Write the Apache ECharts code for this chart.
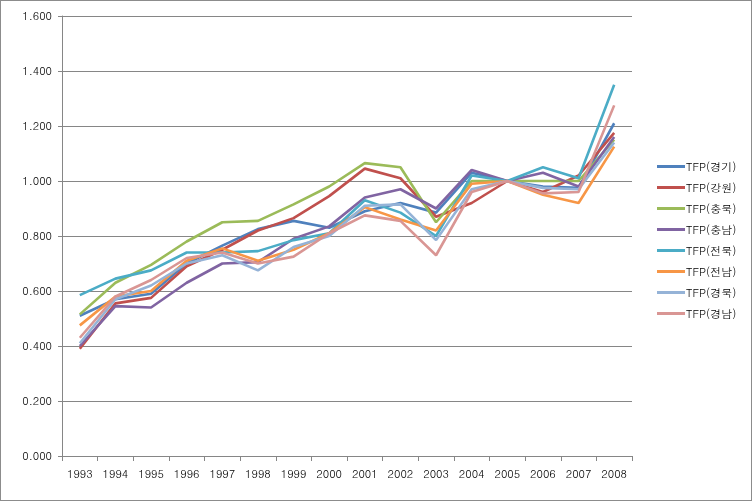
<!DOCTYPE html>
<html><head><meta charset="utf-8">
<script src="https://cdn.jsdelivr.net/npm/echarts@6/dist/echarts.min.js"></script>
<style>
html,body{margin:0;padding:0;background:#fff;}
#c{width:752px;height:501px;box-sizing:border-box;border:1px solid #8c8c8c;}
</style></head><body>
<div id="c"></div>
<script>
const years = ['1993','1994','1995','1996','1997','1998','1999','2000','2001','2002','2003','2004','2005','2006','2007','2008'];
const seriesNames = ['TFP(경기)','TFP(강원)','TFP(충북)','TFP(충남)','TFP(전북)','TFP(전남)','TFP(경북)','TFP(경남)'];
const gyeonggi = [0.510,0.570,0.590,0.700,0.765,0.825,0.855,0.830,0.890,0.920,0.885,1.030,1.000,0.980,0.975,1.210];
const gangwon  = [0.390,0.555,0.575,0.690,0.750,0.820,0.865,0.945,1.045,1.010,0.870,0.920,1.000,0.960,1.020,1.175];
const chungbuk = [0.515,0.630,0.695,0.780,0.850,0.855,0.915,0.980,1.065,1.050,0.850,1.000,1.000,1.000,1.000,1.150];
const chungnam = [0.400,0.545,0.540,0.630,0.700,0.705,0.790,0.835,0.940,0.970,0.900,1.040,1.000,1.030,0.980,1.160];
const jeonbuk  = [0.585,0.645,0.675,0.740,0.740,0.745,0.785,0.810,0.930,0.885,0.800,1.020,1.000,1.050,1.010,1.350];
const jeonnam  = [0.475,0.580,0.600,0.710,0.755,0.710,0.750,0.810,0.905,0.860,0.820,0.990,1.000,0.950,0.920,1.125];
const gyeongbuk= [0.410,0.570,0.620,0.700,0.730,0.675,0.760,0.800,0.910,0.915,0.785,0.970,1.000,0.975,0.970,1.140];
const gyeongnam= [0.430,0.580,0.640,0.720,0.740,0.700,0.725,0.810,0.875,0.855,0.730,0.960,1.000,0.955,0.960,1.275];
const yTicks = [0,0.2,0.4,0.6,0.8,1.0,1.2,1.4,1.6];

const colors = ['#4F81BD','#C0504D','#9BBB59','#8064A2','#4BACC6','#F79646','#95B3D7','#D99694'];
const values = [gyeonggi,gangwon,chungbuk,chungnam,jeonbuk,jeonnam,gyeongbuk,gyeongnam];
const font = 'Dotum, "Noto Sans CJK KR", sans-serif';

const chart = echarts.init(document.getElementById('c'), null, {renderer:'canvas'});
chart.setOption({
  animation:false,
  textStyle:{fontFamily:font},
  color:colors,
  grid:{left:61,right:119,top:15,bottom:44,containLabel:false},
  legend:{
    orient:'vertical', left:651, top:155,
    icon:'rect', itemWidth:28, itemHeight:3, itemGap:10,
    textStyle:{fontSize:11,color:'#000',fontFamily:font,padding:[0,0,0,-4]},
    data:seriesNames
  },
  xAxis:{
    type:'category', data:years, boundaryGap:true,
    axisLine:{lineStyle:{color:'#868686',width:1}},
    axisTick:{show:true,length:5,lineStyle:{color:'#868686'}},
    axisLabel:{fontSize:11,color:'#000',margin:12}
  },
  yAxis:{
    type:'value', min:0, max:1.6, interval:0.2,
    axisLine:{show:true,lineStyle:{color:'#868686',width:1}},
    axisTick:{show:true,length:4,inside:false,lineStyle:{color:'#868686'}},
    splitLine:{lineStyle:{color:'#868686',width:1}},
    axisLabel:{fontSize:11,color:'#000',margin:10,formatter:v=>v.toFixed(3)}
  },
  series: seriesNames.map((n,i)=>({
    name:n, type:'line', data:values[i], symbol:'none', smooth:false,
    lineStyle:{width:2.6,color:colors[i]}, itemStyle:{color:colors[i]}
  }))
});
</script>
</body></html>
